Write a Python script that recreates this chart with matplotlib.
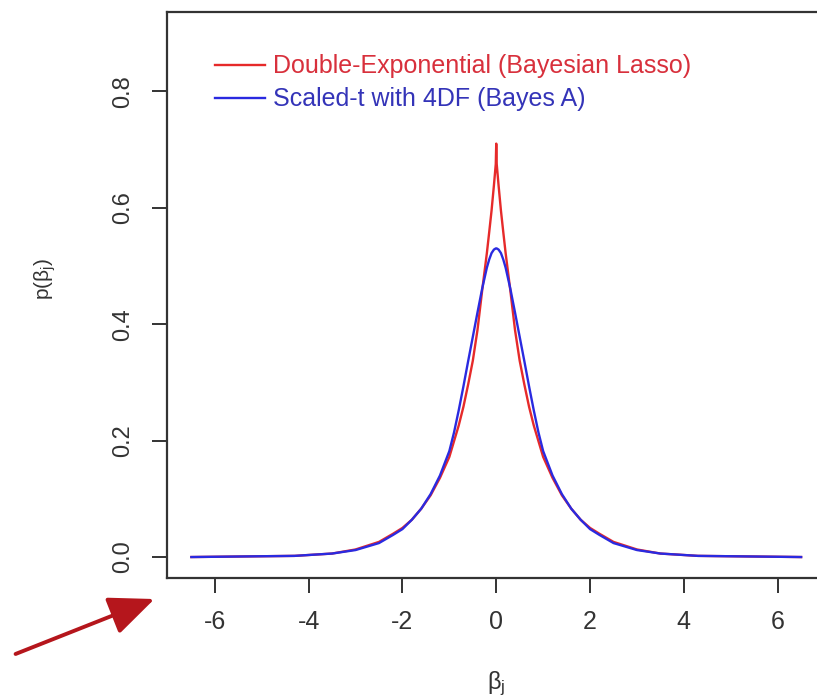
import numpy as np
import matplotlib
matplotlib.use("Agg")
import matplotlib.pyplot as plt

plt.rcParams['font.family'] = ['Liberation Sans', 'DejaVu Sans']
plt.rcParams['mathtext.fontset'] = 'custom'
plt.rcParams['mathtext.rm'] = 'Liberation Sans'
plt.rcParams['mathtext.it'] = 'Liberation Sans'
plt.rcParams['axes.unicode_minus'] = False

# values (left half, curves are mirrored about 0)
half_x = [-6.5, -4.3, -3.5, -3.0, -2.5, -2.2, -2.0, -1.8, -1.6, -1.4, -1.2,
          -1.0, -0.9, -0.8, -0.7, -0.6, -0.5, -0.4, -0.3, -0.2, -0.15, -0.1,
          -0.05, -0.01, 0.0]
dexp_half = [0.000, 0.002, 0.006, 0.013, 0.026, 0.040, 0.050, 0.064, 0.083,
             0.106, 0.136, 0.172, 0.199, 0.226, 0.258, 0.296, 0.337, 0.390,
             0.458, 0.522, 0.558, 0.595, 0.638, 0.675, 0.710]
t4_half = [0.000, 0.002, 0.006, 0.012, 0.024, 0.038, 0.048, 0.064, 0.083,
           0.108, 0.140, 0.182, 0.214, 0.252, 0.293, 0.336, 0.378, 0.420,
           0.461, 0.497, 0.511, 0.522, 0.528, 0.530, 0.530]

beta = half_x + [-v for v in half_x[-2::-1]]
dexp = dexp_half + dexp_half[-2::-1]
t4 = t4_half + t4_half[-2::-1]

labels = ['Double-Exponential (Bayesian Lasso)', 'Scaled-t with 4DF (Bayes A)']
line_cols = ['#e62a2a', '#2a2ae0']
text_cols = ['#d8303c', '#3434b8']

fig = plt.figure(figsize=(8.17, 6.99), dpi=100)
ax = fig.add_axes([0.2044, 0.1731, 0.806, 0.8097])

ax.plot(beta, dexp, color=line_cols[0], lw=1.7, label=labels[0])
ax.plot(beta, t4, color=line_cols[1], lw=1.7, label=labels[1])

ax.set_xlim(-7.02, 7.02)
ax.set_ylim(-0.036, 0.936)
ax.set_xticks([-6, -4, -2, 0, 2, 4, 6])
ax.set_yticks([0.0, 0.2, 0.4, 0.6, 0.8])
ax.set_yticklabels(['0.0', '0.2', '0.4', '0.6', '0.8'], rotation=90, va='center')

for s in ax.spines.values():
    s.set_color('#333333')
    s.set_linewidth(1.6)
ax.tick_params(axis='both', direction='out', length=11, width=1.4, color='#333333',
               labelcolor='#333333')
ax.tick_params(axis='x', labelsize=18, pad=12)
ax.tick_params(axis='y', labelsize=17, pad=13)

ax.set_xlabel(r'β$_\mathregular{j}$', fontsize=17, color='#333333', labelpad=26)
ax.set_ylabel(r'p(β$_\mathregular{j}$)', fontsize=15, color='#333333')
ax.yaxis.set_label_coords(-0.165, 0.528)

leg = ax.legend(loc='upper left', bbox_to_anchor=(0.073, 0.925), frameon=False,
                fontsize=18, handlelength=2.0, handletextpad=0.3,
                labelspacing=0.36, borderpad=0, borderaxespad=0)
for txt, c in zip(leg.get_texts(), text_cols):
    txt.set_color(c)

# arrow pointing at the lower-left corner of the plot
ax.annotate('', xy=(157, 101), xytext=(13, 44), xycoords='figure pixels',
            textcoords='figure pixels', annotation_clip=False,
            arrowprops=dict(arrowstyle='-|>,head_length=1.4,head_width=0.6',
                            mutation_scale=20, color='#b5161c', lw=2.8))

fig.savefig('out.png', dpi=100)
